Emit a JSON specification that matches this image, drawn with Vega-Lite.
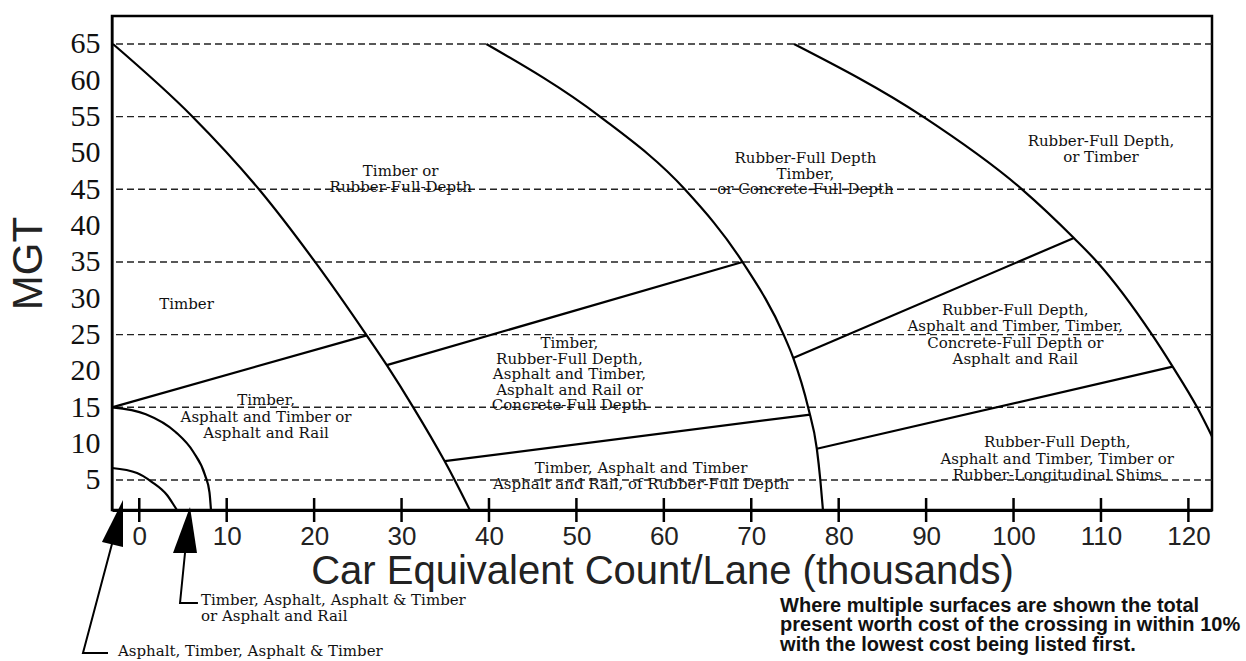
{
  "$schema": "https://vega.github.io/schema/vega-lite/v6.json",
  "width": 1100,
  "height": 494,
  "autosize": "none",
  "padding": {"left": 112, "top": 16, "right": 34, "bottom": 151},
  "background": "white",
  "config": {"view": {"stroke": "black", "strokeWidth": 2.5}},
  "datasets": {
    "grid": [{"y": 5}, {"y": 15}, {"y": 25}, {"y": 35}, {"y": 45}, {"y": 55}, {"y": 65}],
    "tickrows": [{"x": 0}, {"x": 10}, {"x": 20}, {"x": 30}, {"x": 40}, {"x": 50}, {"x": 60}, {"x": 70}, {"x": 80}, {"x": 90}, {"x": 100}, {"x": 110}, {"x": 120}],
    "curves": [
      {"s": "c1", "i": 0, "x": -3.01, "y": 65.0},
      {"s": "c1", "i": 1, "x": 6.01, "y": 55.1},
      {"s": "c1", "i": 2, "x": 13.83, "y": 44.8},
      {"s": "c1", "i": 3, "x": 20.17, "y": 34.9},
      {"s": "c1", "i": 4, "x": 26.01, "y": 24.9},
      {"s": "c1", "i": 5, "x": 28.31, "y": 20.8},
      {"s": "c1", "i": 6, "x": 31.34, "y": 15.0},
      {"s": "c1", "i": 7, "x": 34.92, "y": 7.6},
      {"s": "c1", "i": 8, "x": 36.03, "y": 5.1},
      {"s": "c1", "i": 9, "x": 37.81, "y": 0.87},
      {"s": "c2", "i": 0, "x": 39.7, "y": 65.0},
      {"s": "c2", "i": 1, "x": 52.7, "y": 55.0},
      {"s": "c2", "i": 2, "x": 62.4, "y": 45.0},
      {"s": "c2", "i": 3, "x": 69.0, "y": 35.0},
      {"s": "c2", "i": 4, "x": 73.7, "y": 25.0},
      {"s": "c2", "i": 5, "x": 74.8, "y": 21.8},
      {"s": "c2", "i": 6, "x": 76.5, "y": 15.0},
      {"s": "c2", "i": 7, "x": 77.5, "y": 9.3},
      {"s": "c2", "i": 8, "x": 77.9, "y": 5.0},
      {"s": "c2", "i": 9, "x": 78.2, "y": 0.87},
      {"s": "c3", "i": 0, "x": 74.89, "y": 65.0},
      {"s": "c3", "i": 1, "x": 89.65, "y": 55.0},
      {"s": "c3", "i": 2, "x": 100.97, "y": 45.0},
      {"s": "c3", "i": 3, "x": 106.9, "y": 38.3},
      {"s": "c3", "i": 4, "x": 109.56, "y": 35.0},
      {"s": "c3", "i": 5, "x": 115.84, "y": 25.0},
      {"s": "c3", "i": 6, "x": 118.2, "y": 20.6},
      {"s": "c3", "i": 7, "x": 121.0, "y": 15.0},
      {"s": "c3", "i": 8, "x": 122.7, "y": 11.0},
      {"s": "L1", "i": 0, "x": -3.12, "y": 15.0},
      {"s": "L1", "i": 1, "x": 26.01, "y": 24.9},
      {"s": "L2", "i": 0, "x": 28.31, "y": 20.8},
      {"s": "L2", "i": 1, "x": 69.0, "y": 35.0},
      {"s": "L3", "i": 0, "x": 34.92, "y": 7.6},
      {"s": "L3", "i": 1, "x": 76.75, "y": 14.0},
      {"s": "L4", "i": 0, "x": 74.8, "y": 21.8},
      {"s": "L4", "i": 1, "x": 106.9, "y": 38.3},
      {"s": "L5", "i": 0, "x": 77.5, "y": 9.3},
      {"s": "L5", "i": 1, "x": 118.2, "y": 20.6},
      {"s": "Q1", "i": 0, "x": -3.12, "y": 6.65},
      {"s": "Q1", "i": 1, "x": -0.26, "y": 5.96},
      {"s": "Q1", "i": 2, "x": 1.45, "y": 4.72},
      {"s": "Q1", "i": 3, "x": 3.17, "y": 2.93},
      {"s": "Q1", "i": 4, "x": 4.09, "y": 1.28},
      {"s": "Q1", "i": 5, "x": 4.31, "y": 0.87},
      {"s": "Q2", "i": 0, "x": -3.12, "y": 15.0},
      {"s": "Q2", "i": 1, "x": 0.75, "y": 14.06},
      {"s": "Q2", "i": 2, "x": 4.15, "y": 11.61},
      {"s": "Q2", "i": 3, "x": 6.15, "y": 8.92},
      {"s": "Q2", "i": 4, "x": 7.52, "y": 5.67},
      {"s": "Q2", "i": 5, "x": 8.03, "y": 3.3},
      {"s": "Q2", "i": 6, "x": 8.2, "y": 0.87}
    ],
    "shafts": [
      {"s": "s1", "i": 0, "x": -3.01, "y": -3.3},
      {"s": "s1", "i": 1, "x": -6.44, "y": -18.8},
      {"s": "s1", "i": 2, "x": -3.58, "y": -18.8},
      {"s": "s2", "i": 0, "x": 5.23, "y": -5.05},
      {"s": "s2", "i": 1, "x": 4.66, "y": -11.93},
      {"s": "s2", "i": 2, "x": 6.71, "y": -11.93}
    ],
    "arrows": [
      {"k": "a1", "x": -3.01, "y": -0.99},
      {"k": "a2", "x": 5.23, "y": -1.88}
    ],
    "labels": [
      {"x": 29.9, "y": 47.5, "t": "Timber or\nRubber-Full-Depth"},
      {"x": 76.2, "y": 49.3, "t": "Rubber-Full Depth\nTimber,\nor Concrete-Full-Depth"},
      {"x": 110.0, "y": 51.6, "t": "Rubber-Full Depth,\nor Timber"},
      {"x": 5.4, "y": 29.2, "t": "Timber"},
      {"x": 49.2, "y": 23.8, "t": "Timber,\nRubber-Full Depth,\nAsphalt and Timber,\nAsphalt and Rail or\nConcrete-Full Depth"}
    ],
    "labels2": [
      {"x": 14.5, "y": 16.0, "t": "Timber,\nAsphalt and Timber or\nAsphalt and Rail"},
      {"x": 57.4, "y": 6.65, "t": "Timber, Asphalt and Timber\nAsphalt and Rail, of Rubber-Full Depth"},
      {"x": 100.2, "y": 28.4, "t": "Rubber-Full Depth,\nAsphalt and Timber, Timber,\nConcrete-Full Depth or\nAsphalt and Rail"},
      {"x": 105.0, "y": 10.2, "t": "Rubber-Full Depth,\nAsphalt and Timber, Timber or\nRubber-Longitudinal Shims"}
    ],
    "outside": [
      {"x": 7.06, "y": -11.52, "t": "Timber, Asphalt, Asphalt & Timber\nor Asphalt and Rail"},
      {"x": -2.44, "y": -18.54, "t": "Asphalt, Timber, Asphalt & Timber"}
    ],
    "note": [
      {"x": 73.3, "y": -12.34, "t": "Where multiple surfaces are shown the total\npresent worth cost of the crossing in within 10%\nwith the lowest cost being listed first."}
    ]
  },
  "layer": [
    {
      "data": {"name": "grid"},
      "mark": {"type": "rule", "stroke": "#222", "strokeWidth": 1.4, "strokeDash": [7, 4]},
      "encoding": {
        "y": {"field": "y", "type": "quantitative",
              "scale": {"domain": [0.87, 68.85], "nice": false, "zero": false}}
      }
    },
    {
      "data": {"name": "tickrows"},
      "mark": {"type": "tick", "orient": "vertical", "color": "black", "thickness": 2.5, "size": 24, "opacity": 1},
      "encoding": {
        "x": {"field": "x", "type": "quantitative",
              "scale": {"domain": [-3.12, 122.7], "nice": false, "zero": false}},
        "y": {"datum": 0.87, "type": "quantitative",
              "scale": {"domain": [0.87, 68.85], "nice": false, "zero": false}}
      }
    },
    {
      "data": {"name": "curves"},
      "mark": {"type": "line", "interpolate": "monotone", "stroke": "black", "strokeWidth": 2.2},
      "encoding": {
        "x": {"field": "x", "type": "quantitative",
              "scale": {"domain": [-3.12, 122.7], "nice": false, "zero": false},
              "axis": {"values": [0, 10, 20, 30, 40, 50, 60, 70, 80, 90, 100, 110, 120],
                       "ticks": false, "domainColor": "black", "domainWidth": 3,
                       "labelFont": "Liberation Sans", "labelFontSize": 26, "labelColor": "#222",
                       "labelPadding": 13, "labelFlush": false, "grid": false,
                       "title": "Car Equivalent Count/Lane (thousands)",
                       "titleFont": "Liberation Sans", "titleFontSize": 40, "titleFontWeight": "normal",
                       "titleColor": "#222", "titlePadding": 2}},
        "y": {"field": "y", "type": "quantitative",
              "scale": {"domain": [0.87, 68.85], "nice": false, "zero": false},
              "axis": {"values": [5, 10, 15, 20, 25, 30, 35, 40, 45, 50, 55, 60, 65],
                       "ticks": false, "domainColor": "black", "domainWidth": 2,
                       "labelFont": "Liberation Serif", "labelFontSize": 30, "labelColor": "#111",
                       "labelPadding": 12, "grid": false,
                       "title": "MGT", "titleFont": "Liberation Sans", "titleFontSize": 42,
                       "titleFontWeight": "normal", "titleColor": "#222", "titlePadding": 20}},
        "detail": {"field": "s", "type": "nominal"},
        "order": {"field": "i", "type": "quantitative"}
      }
    },
    {
      "data": {"name": "shafts"},
      "mark": {"type": "line", "interpolate": "linear", "stroke": "black", "strokeWidth": 2, "clip": false},
      "encoding": {
        "x": {"field": "x", "type": "quantitative",
              "scale": {"domain": [-3.12, 122.7], "nice": false, "zero": false}},
        "y": {"field": "y", "type": "quantitative",
              "scale": {"domain": [0.87, 68.85], "nice": false, "zero": false}},
        "detail": {"field": "s", "type": "nominal"},
        "order": {"field": "i", "type": "quantitative"}
      }
    },
    {
      "data": {"name": "arrows"},
      "mark": {"type": "point", "filled": true, "color": "black", "opacity": 1, "size": 2304, "strokeWidth": 0},
      "encoding": {
        "x": {"field": "x", "type": "quantitative",
              "scale": {"domain": [-3.12, 122.7], "nice": false, "zero": false}},
        "y": {"field": "y", "type": "quantitative",
              "scale": {"domain": [0.87, 68.85], "nice": false, "zero": false}},
        "shape": {"field": "k", "type": "nominal", "legend": null,
                  "scale": {"domain": ["a1", "a2"],
                            "range": ["M0.417,-0.979L0.417,0.979L-0.458,0.771Z", "M0.208,-0.958L0.5,0.958L-0.5,0.958Z"]}}
      }
    },
    {
      "data": {"name": "labels"},
      "mark": {"type": "text", "font": "DejaVu Serif", "fontSize": 15, "lineHeight": 15.5,
               "lineBreak": "\n", "align": "center", "baseline": "middle", "color": "#111"},
      "encoding": {
        "x": {"field": "x", "type": "quantitative",
              "scale": {"domain": [-3.12, 122.7], "nice": false, "zero": false}},
        "y": {"field": "y", "type": "quantitative",
              "scale": {"domain": [0.87, 68.85], "nice": false, "zero": false}},
        "text": {"field": "t", "type": "nominal"}
      }
    },
    {
      "data": {"name": "labels2"},
      "mark": {"type": "text", "font": "DejaVu Serif", "fontSize": 15, "lineHeight": 16.5,
               "lineBreak": "\n", "align": "center", "baseline": "middle", "color": "#111"},
      "encoding": {
        "x": {"field": "x", "type": "quantitative",
              "scale": {"domain": [-3.12, 122.7], "nice": false, "zero": false}},
        "y": {"field": "y", "type": "quantitative",
              "scale": {"domain": [0.87, 68.85], "nice": false, "zero": false}},
        "text": {"field": "t", "type": "nominal"}
      }
    },
    {
      "data": {"name": "outside"},
      "mark": {"type": "text", "font": "DejaVu Serif", "fontSize": 15, "lineHeight": 16,
               "lineBreak": "\n", "align": "left", "baseline": "middle", "color": "#111"},
      "encoding": {
        "x": {"field": "x", "type": "quantitative",
              "scale": {"domain": [-3.12, 122.7], "nice": false, "zero": false}},
        "y": {"field": "y", "type": "quantitative",
              "scale": {"domain": [0.87, 68.85], "nice": false, "zero": false}},
        "text": {"field": "t", "type": "nominal"}
      }
    },
    {
      "data": {"name": "note"},
      "mark": {"type": "text", "font": "Liberation Sans", "fontSize": 20, "fontWeight": "bold", "lineHeight": 19.5,
               "lineBreak": "\n", "align": "left", "baseline": "middle", "color": "#111"},
      "encoding": {
        "x": {"field": "x", "type": "quantitative",
              "scale": {"domain": [-3.12, 122.7], "nice": false, "zero": false}},
        "y": {"field": "y", "type": "quantitative",
              "scale": {"domain": [0.87, 68.85], "nice": false, "zero": false}},
        "text": {"field": "t", "type": "nominal"}
      }
    }
  ]
}
